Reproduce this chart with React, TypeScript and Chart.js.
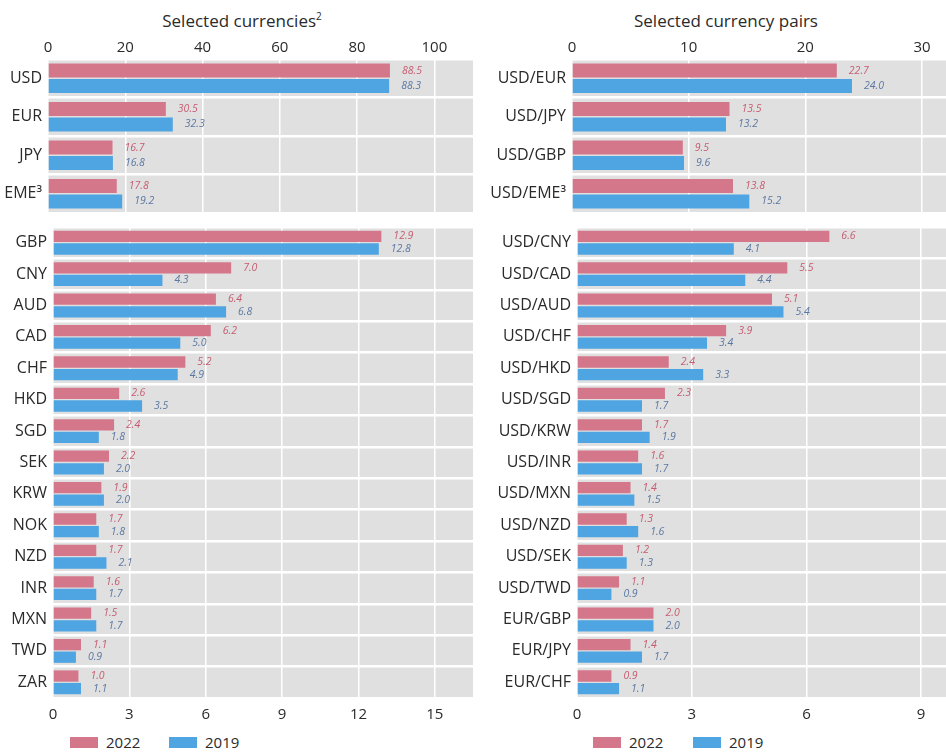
import React, { useEffect, useRef } from "react";
import { Chart, registerables } from "chart.js";
Chart.register(...registerables);

const topCurrencies = ["USD", "EUR", "JPY", "EME³"];
const topCur2022 = [88.5, 30.5, 16.7, 17.8];
const topCur2019 = [88.3, 32.3, 16.8, 19.2];

const otherCurrencies = ["GBP", "CNY", "AUD", "CAD", "CHF", "HKD", "SGD", "SEK", "KRW", "NOK", "NZD", "INR", "MXN", "TWD", "ZAR"];
const otherCur2022 = [12.9, 7.0, 6.4, 6.2, 5.2, 2.6, 2.4, 2.2, 1.9, 1.7, 1.7, 1.6, 1.5, 1.1, 1.0];
const otherCur2019 = [12.8, 4.3, 6.8, 5.0, 4.9, 3.5, 1.8, 2.0, 2.0, 1.8, 2.1, 1.7, 1.7, 0.9, 1.1];

const topPairs = ["USD/EUR", "USD/JPY", "USD/GBP", "USD/EME³"];
const topPairs2022 = [22.7, 13.5, 9.5, 13.8];
const topPairs2019 = [24.0, 13.2, 9.6, 15.2];

const otherPairs = ["USD/CNY", "USD/CAD", "USD/AUD", "USD/CHF", "USD/HKD", "USD/SGD", "USD/KRW", "USD/INR", "USD/MXN", "USD/NZD", "USD/SEK", "USD/TWD", "EUR/GBP", "EUR/JPY", "EUR/CHF"];
const otherPairs2022 = [6.6, 5.5, 5.1, 3.9, 2.4, 2.3, 1.7, 1.6, 1.4, 1.3, 1.2, 1.1, 2.0, 1.4, 0.9];
const otherPairs2019 = [4.1, 4.4, 5.4, 3.4, 3.3, 1.7, 1.9, 1.7, 1.5, 1.6, 1.3, 0.9, 2.0, 1.7, 1.1];

const seriesNames = ["2022", "2019"];

const RED = "#d4778b";
const BLUE = "#4fa4e2";
const RED_LABEL = "#c65c70";
const BLUE_LABEL = "#5a78a2";
const BG = "#e0e0e0";
const FONT = "'Open Sans', 'Noto Sans', sans-serif";
const TEXT = "#2a2a2a";

type PanelProps = {
  labels: string[];
  d22: number[];
  d19: number[];
  max: number;
  step: number;
  position: "top" | "bottom";
  left: number;
  top: number;
  width: number;
  height: number;
  yw: number;
  xh: number;
  padRight: number;
};

function Panel(p: PanelProps) {
  const ref = useRef<HTMLCanvasElement | null>(null);
  useEffect(() => {
    if (!ref.current) return;
    const bgPlugin = {
      id: "bg",
      beforeDraw(chart: any) {
        const { ctx, chartArea } = chart;
        ctx.save();
        ctx.fillStyle = BG;
        ctx.fillRect(chartArea.left, chartArea.top, chartArea.right - chartArea.left, chartArea.bottom - chartArea.top);
        ctx.restore();
      },
    };
    const labelPlugin = {
      id: "vals",
      afterDatasetsDraw(chart: any) {
        const { ctx } = chart;
        ctx.save();
        ctx.font = `italic 10.5px ${FONT}`;
        ctx.textAlign = "left";
        ctx.textBaseline = "middle";
        chart.data.datasets.forEach((ds: any, i: number) => {
          const meta = chart.getDatasetMeta(i);
          ctx.fillStyle = i === 0 ? RED_LABEL : BLUE_LABEL;
          meta.data.forEach((el: any, j: number) => {
            ctx.fillText(Number(ds.data[j]).toFixed(1), el.x + 12, el.y);
          });
        });
        ctx.restore();
      },
    };
    const chart = new Chart(ref.current, {
      type: "bar",
      data: {
        labels: p.labels,
        datasets: [
          { label: seriesNames[0], data: p.d22, backgroundColor: RED, categoryPercentage: 0.8, barPercentage: 0.9 },
          { label: seriesNames[1], data: p.d19, backgroundColor: BLUE, categoryPercentage: 0.8, barPercentage: 0.9 },
        ],
      },
      options: {
        indexAxis: "y",
        responsive: false,
        animation: false,
        layout: { padding: { left: 0, right: p.padRight, top: 0, bottom: 0 } },
        plugins: { legend: { display: false }, tooltip: { enabled: false } },
        scales: {
          x: {
            type: "linear",
            position: p.position,
            min: 0,
            max: p.max,
            ticks: { stepSize: p.step, includeBounds: false, font: { family: FONT, size: 15 }, color: TEXT, padding: p.position === "top" ? 2 : 8 },
            grid: { color: "#ffffff", lineWidth: 1.5, drawTicks: false },
            border: { display: false },
            afterFit: (s: any) => {
              s.height = p.xh;
              s.paddingLeft = 0;
              s.paddingRight = 0;
            },
          },
          y: {
            type: "category",
            ticks: { font: { family: FONT, size: 16 }, color: TEXT, padding: 6 },
            grid: { color: "#ffffff", lineWidth: 2.5, drawTicks: false, offset: true },
            border: { display: false },
            afterFit: (s: any) => {
              s.width = p.yw;
              s.paddingTop = 0;
              s.paddingBottom = 0;
            },
          },
        },
      },
      plugins: [bgPlugin, labelPlugin],
    } as any);
    return () => chart.destroy();
  }, []);
  return (
    <canvas
      ref={ref}
      width={p.width}
      height={p.height}
      style={{ position: "absolute", left: p.left, top: p.top, width: p.width, height: p.height }}
    />
  );
}

function LegendItem({ x, color, text }: { x: number; color: string; text: string }) {
  return (
    <div style={{ position: "absolute", left: x, top: 732, height: 20, display: "flex", alignItems: "center" }}>
      <div style={{ width: 28, height: 11, background: color, marginRight: 8 }} />
      <span style={{ fontFamily: FONT, fontSize: 15, color: TEXT }}>{text}</span>
    </div>
  );
}

export default function App() {
  return (
    <div style={{ position: "absolute", left: 0, top: 0, width: 946, height: 753, background: "#fff", overflow: "hidden" }}>
      <div style={{ position: "absolute", left: 0, width: 484, top: 9, textAlign: "center", fontFamily: FONT, fontSize: 17, color: TEXT }}>
        Selected currencies<sup style={{ fontSize: 10 }}>2</sup>
      </div>
      <div style={{ position: "absolute", left: 480, width: 492, top: 9, textAlign: "center", fontFamily: FONT, fontSize: 17, color: TEXT }}>
        Selected currency pairs
      </div>
      <Panel labels={topCurrencies} d22={topCur2022} d19={topCur2019} max={110} step={20} position="top"
        left={0} top={30} width={480} height={183} yw={48} xh={29} padRight={7} />
      <Panel labels={otherCurrencies} d22={otherCur2022} d19={otherCur2019} max={16.5} step={3} position="bottom"
        left={0} top={227} width={480} height={501} yw={53} xh={30} padRight={7} />
      <Panel labels={topPairs} d22={topPairs2022} d19={topPairs2019} max={32.06} step={10} position="top"
        left={480} top={30} width={466} height={183} yw={92} xh={29} padRight={0} />
      <Panel labels={otherPairs} d22={otherPairs2022} d19={otherPairs2019} max={9.65} step={3} position="bottom"
        left={480} top={227} width={466} height={501} yw={97} xh={30} padRight={0} />
      <LegendItem x={70} color={RED} text={seriesNames[0]} />
      <LegendItem x={169} color={BLUE} text={seriesNames[1]} />
      <LegendItem x={593} color={RED} text={seriesNames[0]} />
      <LegendItem x={693} color={BLUE} text={seriesNames[1]} />
    </div>
  );
}
